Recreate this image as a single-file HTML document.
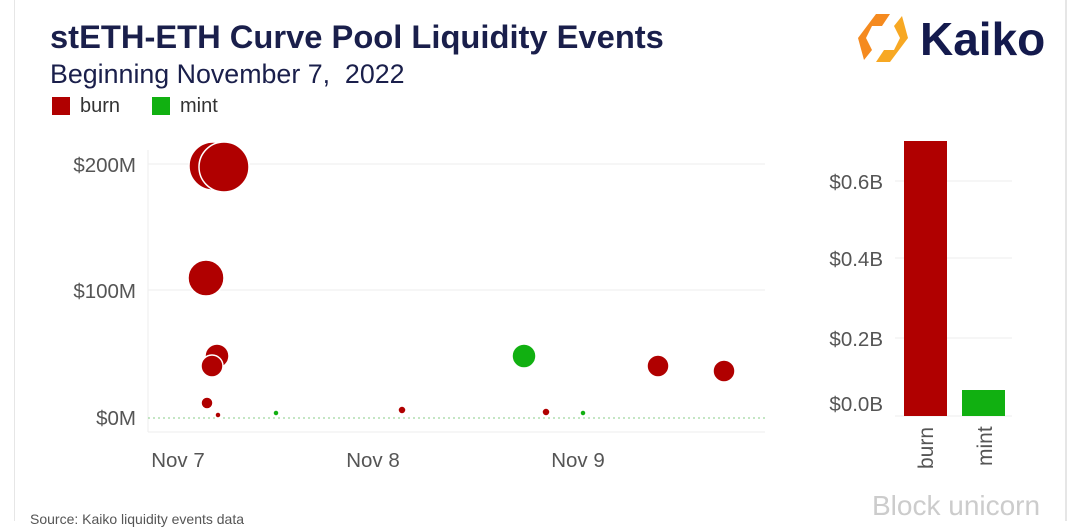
<!DOCTYPE html><html><head><style>
body{margin:0;width:1080px;height:521px;background:#fff;overflow:hidden;font-family:"Liberation Sans",sans-serif;position:relative}
.a{position:absolute}
</style></head><body>
<div class="a" style="left:14px;top:0;width:1px;height:521px;background:#e6e6e6"></div>
<div class="a" style="left:1065px;top:0;width:2px;height:521px;background:#e6e6e6"></div>
<div class="a" style="left:50px;top:18px;font-size:32.7px;font-weight:bold;color:#1a1f4b">stETH-ETH Curve Pool Liquidity Events</div>
<div class="a" style="left:50px;top:59px;font-size:26.8px;color:#1a1f4b">Beginning November 7,&nbsp; 2022</div>
<div class="a" style="left:52px;top:97px;width:18px;height:18px;background:#b00000"></div>
<div class="a" style="left:80px;top:95px;font-size:20px;color:#333">burn</div>
<div class="a" style="left:152px;top:97px;width:18px;height:18px;background:#11b011"></div>
<div class="a" style="left:180px;top:95px;font-size:20px;color:#333">mint</div>
<svg class="a" style="left:858px;top:12px" width="50" height="52" viewBox="0 0 50 52"><path d="M18 2 L32 2 L24 14 L14 14 L8 26 L14 38 L6 48 L0 26Z" fill="#f58a1f"/><path d="M32 50 L18 50 L26 38 L36 38 L42 26 L36 14 L44 4 L50 26Z" fill="#f7a823"/></svg>
<div class="a" style="left:920px;top:12px;font-size:46px;font-weight:bold;color:#141a4d">Kaiko</div>
<svg class="a" style="left:0;top:0" width="1080" height="521">
<g stroke="#eee" stroke-width="1"><line x1="148" y1="164" x2="765" y2="164"/><line x1="148" y1="290" x2="765" y2="290"/><line x1="148" y1="432" x2="765" y2="432"/><line x1="148" y1="150" x2="148" y2="432"/>
<line x1="895" y1="181" x2="1012" y2="181"/><line x1="895" y1="258" x2="1012" y2="258"/><line x1="895" y1="338" x2="1012" y2="338"/><line x1="895" y1="416" x2="1012" y2="416"/></g>
<line x1="148" y1="418" x2="765" y2="418" stroke="#8c8" stroke-dasharray="2,3"/>
<g font-size="20.5" fill="#555" text-anchor="end"><text x="136" y="172">$200M</text><text x="136" y="298">$100M</text><text x="136" y="425">$0M</text>
<text x="883" y="189">$0.6B</text><text x="883" y="266">$0.4B</text><text x="883" y="346">$0.2B</text><text x="883" y="411">$0.0B</text></g>
<g font-size="20.5" fill="#555" text-anchor="middle"><text x="178" y="467">Nov 7</text><text x="373" y="467">Nov 8</text><text x="578" y="467">Nov 9</text></g>
<g fill="#b00000" stroke="#fff" stroke-width="1.5">
<circle cx="213" cy="166" r="24"/><circle cx="224" cy="167" r="25"/><circle cx="206" cy="278" r="18"/>
<circle cx="217" cy="356" r="12"/><circle cx="212" cy="366" r="11"/><circle cx="207" cy="403" r="6"/>
<circle cx="658" cy="366" r="11"/><circle cx="724" cy="371" r="11"/><circle cx="402" cy="410" r="4"/><circle cx="546" cy="412" r="4"/><circle cx="218" cy="415" r="3"/></g>
<g fill="#11b011" stroke="#fff" stroke-width="1.5"><circle cx="524" cy="356" r="12"/><circle cx="276" cy="413" r="3"/><circle cx="583" cy="413" r="3"/></g>
<rect x="904" y="141" width="43" height="275" fill="#b00000"/><rect x="962" y="390" width="43" height="26" fill="#11b011"/>
<g font-size="21" fill="#555"><text transform="translate(933,469) rotate(-90)">burn</text><text transform="translate(992,466) rotate(-90)">mint</text></g>
</svg>
<div class="a" style="left:30px;top:511px;font-size:14px;color:#555">Source: Kaiko liquidity events data</div>
<div class="a" style="left:872px;top:490px;font-size:28px;color:#ccc">Block unicorn</div>
</body></html>
